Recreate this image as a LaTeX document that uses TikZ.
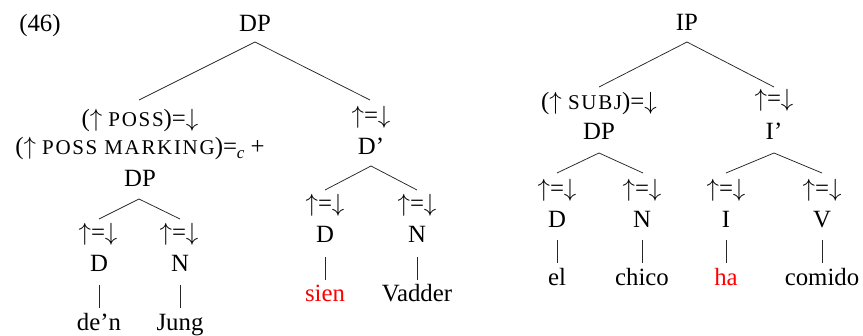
\documentclass[tikz,border=0pt]{standalone}
\usepackage{fontspec}
\setmainfont{Liberation Serif}
\newcommand{\smcap}[1]{{\fontsize{21}{22}\selectfont\addfontfeature{LetterSpace=8}#1}}
\newcommand{\sbc}{\raisebox{-0.35ex}{\fontsize{17}{17}\selectfont\itshape c}}
\newcommand{\up}{$\uparrow$}
\newcommand{\dn}{$\downarrow$}
\newcommand{\eqa}{\up=\dn}
\begin{document}
\begin{tikzpicture}[x=1pt,y=-1pt,
  lab/.style={anchor=base,inner sep=0pt,font=\fontsize{24.8}{30}\selectfont},
  red/.style={text=red},
  edge/.style={line width=0.75pt,black!85}]
\useasboundingbox (0,0) rectangle (863,336);
% ---------- left tree ----------
\node[lab] (ex) at (40,32) {(46)};
\node[lab] (dp0) at (255,31.5) {DP};
\coordinate (dp0b) at (255,42);
\coordinate (possT) at (139,100);
\coordinate (dbarT) at (370,100);
\node[lab] (poss) at (140,127) {(\up{} \smcap{POSS})=\dn};
\node[lab] (possm) at (140,155) {(\up{} \smcap{POSS MARKING})=\sbc{} +};
\node[lab] (dp1) at (140,187) {DP};
\coordinate (dp1b) at (139,199);
\coordinate (dT) at (99,219);
\coordinate (nT) at (180,219);
\node[lab] (ad1) at (98,241) {\eqa};
\node[lab] (an1) at (179,241) {\eqa};
\node[lab] (d1) at (99,272) {D};
\node[lab] (n1) at (180,272) {N};
\node[lab] (w1) at (99,331) {de’n};
\node[lab] (w2) at (180,331) {Jung};
\node[lab] (adb) at (371,124) {\eqa};
\node[lab] (dbar) at (371,155) {D’};
\coordinate (dbarb) at (371,166);
\coordinate (d2T) at (325,190);
\coordinate (n2T) at (417,190);
\node[lab] (ad2) at (325,212) {\eqa};
\node[lab] (an2) at (417,212) {\eqa};
\node[lab] (d2) at (325,243) {D};
\node[lab] (n2) at (417,243) {N};
\node[lab,red] (w3) at (325,302) {sien};
\node[lab] (w4) at (417,302) {Vadder};
\draw[edge] (possT) -- (dp0b) -- (dbarT);
\draw[edge] (dT) -- (dp1b) -- (nT);
\draw[edge] (d2T) -- (dbarb) -- (n2T);
\draw[edge] (99,285) -- (99,308);
\draw[edge] (180,285) -- (180,308);
\draw[edge] (325,257) -- (325,280);
\draw[edge] (417,257) -- (417,280);
% ---------- right tree ----------
\node[lab] (ip) at (687,30.5) {IP};
\coordinate (ipb) at (687,42);
\coordinate (subjT) at (599,87);
\coordinate (ibarT) at (774,87);
\node[lab] (subj) at (599,110) {(\up{} \smcap{SUBJ})=\dn};
\node[lab] (dp2) at (599,140) {DP};
\node[lab] (aib) at (774,107) {\eqa};
\node[lab] (ibar) at (774,140) {I’};
\coordinate (dp2b) at (599,153);
\coordinate (ibarb) at (774,153);
\coordinate (d3T) at (557,173);
\coordinate (n3T) at (643,173);
\coordinate (i3T) at (726,173);
\coordinate (v3T) at (822,173);
\node[lab] (ad3) at (557,197) {\eqa};
\node[lab] (an3) at (642,197) {\eqa};
\node[lab] (ai3) at (726,197) {\eqa};
\node[lab] (av3) at (822,197) {\eqa};
\node[lab] (d3) at (557,228) {D};
\node[lab] (n3) at (642,228) {N};
\node[lab] (i3) at (726,228) {I};
\node[lab] (v3) at (822,228) {V};
\node[lab] (w5) at (557,286) {el};
\node[lab] (w6) at (642,286) {chico};
\node[lab,red] (w7) at (726,286) {ha};
\node[lab] (w8) at (822,286) {comido};
\draw[edge] (subjT) -- (ipb) -- (ibarT);
\draw[edge] (d3T) -- (dp2b) -- (n3T);
\draw[edge] (i3T) -- (ibarb) -- (v3T);
\draw[edge] (557,240) -- (557,263);
\draw[edge] (642,240) -- (642,263);
\draw[edge] (726,240) -- (726,263);
\draw[edge] (822,240) -- (822,263);
\end{tikzpicture}
\end{document}
